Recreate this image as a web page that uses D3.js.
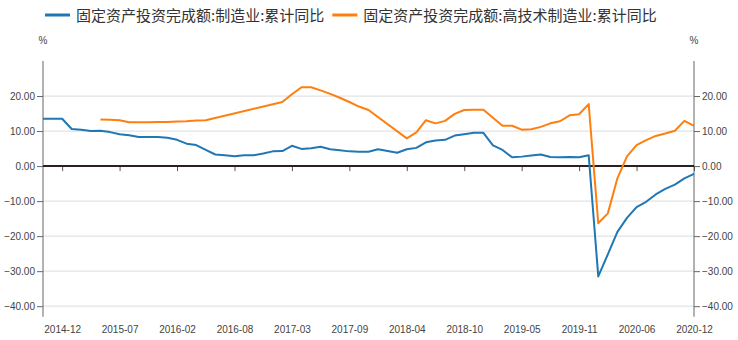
<!DOCTYPE html>
<html>
<head>
<meta charset="utf-8">
<script src="https://cdn.jsdelivr.net/npm/d3@7"></script>
<style>
  html, body { margin: 0; padding: 0; background: #fff; }
  svg { display: block; }
  text { font-family: "Liberation Sans", Arial, sans-serif; }
  .legend text { font-family: "Noto Sans CJK SC", sans-serif; }
</style>
</head>
<body>
<svg id="chart" width="738" height="340"></svg>
<script>
// Months on the category axis (January is folded into the Jan–Feb cumulative figure)
const categories = [
  "2014-10","2014-11","2014-12",
  "2015-02","2015-03","2015-04","2015-05","2015-06","2015-07","2015-08","2015-09","2015-10","2015-11","2015-12",
  "2016-02","2016-03","2016-04","2016-05","2016-06","2016-07","2016-08","2016-09","2016-10","2016-11","2016-12",
  "2017-02","2017-03","2017-04","2017-05","2017-06","2017-07","2017-08","2017-09","2017-10","2017-11","2017-12",
  "2018-02","2018-03","2018-04","2018-05","2018-06","2018-07","2018-08","2018-09","2018-10","2018-11","2018-12",
  "2019-02","2019-03","2019-04","2019-05","2019-06","2019-07","2019-08","2019-09","2019-10","2019-11","2019-12",
  "2020-02","2020-03","2020-04","2020-05","2020-06","2020-07","2020-08","2020-09","2020-10","2020-11","2020-12"
];

// 固定资产投资完成额:制造业:累计同比 (%)
const manufacturing = [
  13.5, 13.5, 13.5,
  10.6, 10.4, 10.0, 10.1, 9.7, 9.1, 8.8, 8.3, 8.3, 8.3, 8.1,
  7.5, 6.4, 6.0, 4.6, 3.3, 3.1, 2.8, 3.1, 3.1, 3.6, 4.2,
  4.3, 5.8, 4.9, 5.1, 5.5, 4.8, 4.5, 4.2, 4.1, 4.1, 4.8,
  4.3, 3.8, 4.8, 5.2, 6.8, 7.3, 7.5, 8.7, 9.1, 9.5, 9.5,
  5.9, 4.6, 2.5, 2.7, 3.0, 3.3, 2.6, 2.5, 2.6, 2.5, 3.1,
  -31.5, -25.2, -18.8, -14.8, -11.7, -10.2, -8.1, -6.5, -5.3, -3.5, -2.2
];

// 固定资产投资完成额:高技术制造业:累计同比 (%), null where no figure was published
const highTech = [
  null, null, null,
  null, null, null, 13.3, 13.2, 13.1, 12.5, 12.5, 12.5, 12.6, 12.6,
  12.7, 12.8, 13.0, 13.1, null, null, null, null, null, null, null,
  18.3, 20.5, 22.5, 22.5, 21.6, 20.6, 19.5, 18.3, 17.0, 16.0, null,
  null, null, 7.9, 9.6, 13.1, 12.2, 12.9, 14.9, 16.0, 16.1, 16.1,
  null, 11.5, 11.5, 10.4, 10.5, 11.2, 12.2, 12.8, 14.5, 14.8, 17.7,
  -16.3, -13.5, -3.5, 2.8, 6.0, 7.4, 8.6, 9.3, 10.1, 12.9, 11.5
];

const xTickLabels = ["2014-12","2015-07","2016-02","2016-08","2017-03","2017-09",
                     "2018-04","2018-10","2019-05","2019-11","2020-06","2020-12"];
const yTickValues = [-40, -30, -20, -10, 0, 10, 20];

const seriesNames = ["固定资产投资完成额:制造业:累计同比", "固定资产投资完成额:高技术制造业:累计同比"];
const seriesColors = ["#1f77b4", "#ff7f0e"];

const svg = d3.select("#chart");
const plotLeft = 43, plotRight = 694, plotTop = 61, plotBottom = 316.7;

const x = d3.scalePoint().domain(categories).range([plotLeft, plotRight]);
const y = d3.scaleLinear().domain([-43, 30]).range([plotBottom, plotTop]);

// horizontal grid
svg.append("g").selectAll("line")
  .data(yTickValues.filter(v => v !== 0))
  .join("line")
  .attr("x1", plotLeft).attr("x2", plotRight)
  .attr("y1", d => y(d)).attr("y2", d => y(d))
  .attr("stroke", "#e3e3e3").attr("stroke-width", 1.2);

// y axes, both sides
const fmt = d3.format(".2f");
const yl = svg.append("g").attr("transform", `translate(${plotLeft},0)`)
  .call(d3.axisLeft(y).tickValues(yTickValues).tickFormat(fmt).tickSize(6).tickPadding(2).tickSizeOuter(0));
const yr = svg.append("g").attr("transform", `translate(${plotRight},0)`)
  .call(d3.axisRight(y).tickValues(yTickValues).tickFormat(fmt).tickSize(6).tickPadding(2).tickSizeOuter(0));
[yl, yr].forEach(g => {
  g.attr("font-family", null);
  g.select(".domain").remove();
  g.selectAll(".tick line").attr("stroke", "#666");
  g.selectAll(".tick text").attr("fill", "#444").style("font-size", "10px");
  g.append("line").attr("x1", 0).attr("x2", 0).attr("y1", plotTop).attr("y2", plotBottom).attr("stroke", "#666");
});

// unit labels
svg.append("text").attr("x", plotLeft).attr("y", 44).attr("text-anchor", "middle")
  .attr("fill", "#444").style("font-size", "10px").text("%");
svg.append("text").attr("x", plotRight).attr("y", 44).attr("text-anchor", "middle")
  .attr("fill", "#444").style("font-size", "10px").text("%");

// x axis: ticks hang from the zero line, labels sit under the plot
const y0 = y(0);
const xa = svg.append("g").attr("transform", `translate(0,${y0})`)
  .call(d3.axisBottom(x).tickValues(xTickLabels).tickSize(5).tickSizeOuter(0));
xa.attr("font-family", null);
xa.select(".domain").remove();
xa.selectAll(".tick line").attr("stroke", "#555");
xa.selectAll(".tick text").attr("y", 333 - y0).attr("dy", null)
  .attr("fill", "#444").style("font-size", "10px");

// zero line
svg.append("line").attr("x1", plotLeft).attr("x2", plotRight)
  .attr("y1", y0).attr("y2", y0)
  .attr("stroke", "#2b1f1f").attr("stroke-width", 2);

// series lines (gaps are bridged)
const line = d3.line().x(d => x(d.c)).y(d => y(d.v));
[manufacturing, highTech].forEach((vals, i) => {
  const pts = categories.map((c, j) => ({ c, v: vals[j] })).filter(d => d.v !== null);
  svg.append("path").datum(pts)
    .attr("fill", "none")
    .attr("stroke", seriesColors[i])
    .attr("stroke-width", 2)
    .attr("stroke-linejoin", "round")
    .attr("d", line);
});

// legend
const legend = svg.append("g").attr("class", "legend");
let lx = 45;
seriesNames.forEach((name, i) => {
  legend.append("line").attr("x1", lx).attr("x2", lx + 25)
    .attr("y1", 15).attr("y2", 15)
    .attr("stroke", seriesColors[i]).attr("stroke-width", 3);
  const t = legend.append("text").attr("x", lx + 31).attr("y", 20.5)
    .attr("fill", "#333").style("font-size", "15px").text(name);
  lx += 31 + t.node().getComputedTextLength() + 8;
});
</script>
</body>
</html>
